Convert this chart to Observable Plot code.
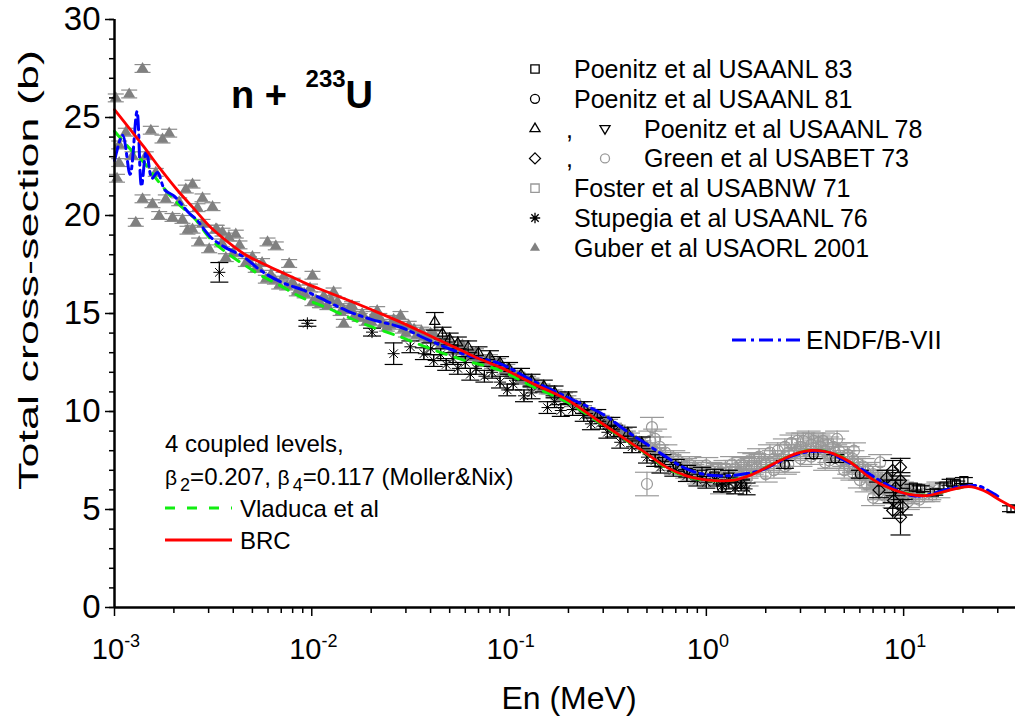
<!DOCTYPE html>
<html>
<head>
<meta charset="utf-8">
<script src="https://cdn.jsdelivr.net/npm/d3@7"></script>
<script src="https://cdn.jsdelivr.net/npm/@observablehq/plot@0.6"></script>
<style>
  html, body { margin: 0; padding: 0; background: #fff; }
  #chart { width: 1015px; height: 716px; }
</style>
</head>
<body>
<div id="chart"></div>
<script>
// ---------- tick values ----------
const yMajor = [0, 5, 10, 15, 20, 25, 30];
const yMinor = [0,1,2,3,4,5,6,7,8,9,10,11,12,13,14,15,16,17,18,19,20,21,22,23,24,25,26,27,28,29,30];
const xMajor = [1e-3, 1e-2, 1e-1, 1, 10];
const xMajorExp = ["-3", "-2", "-1", "0", "1"];
const xMinor = [2e-3,3e-3,4e-3,5e-3,6e-3,7e-3,8e-3,9e-3,
                2e-2,3e-2,4e-2,5e-2,6e-2,7e-2,8e-2,9e-2,
                0.2,0.3,0.4,0.5,0.6,0.7,0.8,0.9,
                2,3,4,5,6,7,8,9,20,30];

// ---------- calculated curves [E (MeV), sigma (b)] ----------
const brcCurve = [[1e-3,25.4],[1.2e-3,24.4],[1.41e-3,23.5],[1.7e-3,22.4],[2.08e-3,21.3],[2.5e-3,20.4],
  [3.07e-3,19.4],[3.7e-3,18.7],[4.52e-3,18.05],[5.5e-3,17.6],[6.68e-3,17.2],[8e-3,16.85],[9.5e-3,16.5],
  [1.2e-2,16.1],[1.6e-2,15.6],[2e-2,15.2],[2.82e-2,14.56],[4e-2,13.85],[5.5e-2,13.2],[7e-2,12.7],
  [9.04e-2,12.25],[0.1334,11.4],[0.197,10.6],[0.29,9.45],[0.38,8.65],[0.482,7.95],[0.63,7.15],
  [0.8,6.7],[0.933,6.55],[1.1,6.47],[1.38,6.5],[1.7,6.78],[2.03,7.16],[2.47,7.59],[2.9,7.88],
  [3.37,8.01],[3.9,7.98],[4.43,7.84],[5.37,7.41],[6.53,6.73],[7.93,6.22],[10.4,5.8],[13.2,5.71],
  [17.3,6.0],[21.4,6.17],[25.4,5.97],[31,5.46],[36.9,5.04]];
const vladucaCurve = [[1e-3,24.3],[1.2e-3,23.4],[1.41e-3,22.7],[1.71e-3,21.6],[2.1e-3,20.6],[2.52e-3,19.9],
  [3.07e-3,18.8],[3.7e-3,18.1],[4.52e-3,17.5],[5.5e-3,16.95],[6.7e-3,16.5],[8.77e-3,15.85],[1.29e-2,15.15],
  [1.8e-2,14.5],[2.82e-2,13.8],[4e-2,13.2],[6e-2,12.6],[9.04e-2,12.1],[0.13,11.3],[0.2,10.45],[0.29,9.4],
  [0.38,8.62],[0.482,7.93],[0.63,7.12],[0.8,6.68],[0.95,6.52],[1.13,6.47],[1.38,6.51],[2.03,7.17],
  [2.47,7.6],[3.37,8.02],[4.43,7.85],[5.37,7.42],[6.53,6.75],[7.93,6.24],[10.4,5.82],[13.2,5.73],
  [17.3,6.0],[20,6.14]];
const endfCurve = [[1e-3,22.8],[1.1e-3,24.1],[1.2e-3,22.1],[1.3e-3,25.3],[1.37e-3,21.5],[1.45e-3,23.3],
  [1.55e-3,21.9],[1.65e-3,22.2],[1.8e-3,21.3],[2e-3,21.0],[2.4e-3,20.1],[2.6e-3,19.8],[3.07e-3,18.9],
  [3.6e-3,18.4],[4.5e-3,17.9],[5.5e-3,17.2],[7e-3,16.6],[9e-3,16.2],[1.1e-2,15.8],[1.5e-2,15.15],
  [2e-2,14.7],[2.82e-2,14.3],[4e-2,13.6],[6e-2,12.9],[9.04e-2,12.43],[0.13,11.6],[0.2,10.7],[0.3,9.85],
  [0.4,8.95],[0.48,8.44],[0.6,7.8],[0.71,7.33],[0.85,6.95],[1.08,6.73],[1.4,6.75],[1.88,6.99],[2.3,7.4],
  [2.77,7.76],[3.3,7.95],[4.1,7.93],[5,7.5],[6.05,7.08],[7.5,6.5],[9,6.05],[11,5.71],[13,5.72],
  [15.9,5.97],[19,6.15],[23.5,6.22],[26,6.05],[28.7,5.8],[30,5.68]];

// ---------- experimental data [E (MeV), sigma (b), error (b)] ----------
const guberData = [[1.387e-3,27.5,0.2],[1.187e-3,26.2,0.2],[1.015e-3,26.0,0.2],[1.141e-3,24.25,0.2],[1.528e-3,24.35,0.2],
  [1.893e-3,24.2,0.2],[1.751e-3,23.9,0.2],[1.056e-3,23.6,0.2],[1.441e-3,23.05,0.2],[1.234e-3,23.05,0.2],
  [1.056e-3,22.7,0.2],[1.619e-3,22.2,0.2],[1.03e-3,21.9,0.2],[2.485e-3,21.6,0.2],[2.298e-3,21.35,0.2],
  [1.387e-3,20.85,0.2],[1.82e-3,20.85,0.2],[2.793e-3,20.9,0.2],[1.558e-3,20.6,0.2],[2.128e-3,20.7,0.2],
  [2.634e-3,20.4,0.2],[3.139e-3,20.45,0.2],[1.685e-3,20.0,0.2],[1.968e-3,19.9,0.2],[1.282e-3,19.65,0.2],
  [2.211e-3,19.8,0.2],[2.485e-3,19.3,0.2],[2.344e-3,19.25,0.2],[2.793e-3,19.6,0.2],[3.262e-3,19.3,0.2],
  [3.527e-3,19.15,0.2],[2.687e-3,18.65,0.2],[4.118e-3,19.05,0.2],[3.02e-3,18.3,0.2],[3.665e-3,17.85,0.2],
  [5.965e-3,18.65,0.2],[6.57e-3,18.45,0.2],[4.63e-3,17.6,0.2],[5.2e-3,17.3,0.2],[7.68e-3,17.55,0.2],
  [1.008e-2,16.95,0.2],[5.85e-3,16.75,0.2],[6.84e-3,16.45,0.2],[8.63e-3,16.25,0.2],[1.008e-2,15.6,0.2],
  [1.107e-2,15.5,0.2],[1.453e-2,14.5,0.2],[2.145e-2,15.15,0.2],[2.816e-2,14.9,0.2],[1.29e-2,16.1,0.2],
  [3.3e-3,19.3,0.2],[3.5e-3,18.6,0.2],[3.8e-3,18.9,0.2],[4.0e-3,18.1,0.2],[4.3e-3,18.5,0.2],[4.8e-3,17.7,0.2],
  [5.0e-3,17.9,0.2],[5.4e-3,17.3,0.2],[5.6e-3,17.6,0.2],[6.2e-3,17.0,0.2],[6.5e-3,16.7,0.2],[7.2e-3,16.9,0.2],
  [7.5e-3,16.4,0.2],[8.0e-3,16.6,0.2],[8.4e-3,16.1,0.2],[9.2e-3,16.0,0.2],[9.8e-3,16.3,0.2],[1.05e-2,15.7,0.2],
  [1.15e-2,15.9,0.2],[1.2e-2,15.4,0.2],[1.35e-2,15.6,0.2],[1.4e-2,15.1,0.2],[1.55e-2,15.3,0.2],[1.65e-2,14.9,0.2],
  [1.8e-2,15.0,0.2],[1.9e-2,14.6,0.2],[2.05e-2,14.9,0.2],[2.3e-2,14.5,0.2],[2.5e-2,14.4,0.2],[2.6e-2,14.7,0.2],
  [2.9e-2,14.2,0.2],[3.1e-2,14.4,0.2],[3.4e-2,13.9,0.2],[3.6e-2,14.1,0.2],[3.9e-2,13.7,0.2],[4.2e-2,13.9,0.2],
  [4.5e-2,13.4,0.2],[4.8e-2,13.6,0.2],[5.2e-2,13.2,0.2],[5.6e-2,13.3,0.2],[6.0e-2,12.9,0.2],[6.5e-2,13.0,0.2],
  [7.0e-2,12.7,0.2],[7.6e-2,12.6,0.2],[8.2e-2,12.4,0.2],[8.8e-2,12.5,0.2],[9.5e-2,12.1,0.2],[0.102,12.0,0.2],
  [0.11,11.8,0.2],[0.12,11.7,0.2],[0.13,11.5,0.2],[0.14,11.3,0.2],[0.155,11.1,0.2],[0.17,10.9,0.2],
  [0.185,10.7,0.2],[0.2,10.6,0.2],[0.22,10.3,0.2],[0.24,10.1,0.2],[0.26,9.9,0.2],[0.28,9.7,0.2],
  [0.31,9.5,0.2],[0.34,9.2,0.2],[0.37,8.95,0.2],[0.4,8.8,0.2],[0.44,8.5,0.2],[0.48,8.3,0.2],[0.52,8.0,0.2],[0.58,7.7,0.2],
  [1.1e-2,15.5,0.2],[1.25e-2,15.7,0.2],[1.45e-2,15.2,0.2],[1.6e-2,15.4,0.2],[1.75e-2,14.8,0.2],[2.0e-2,14.6,0.2],
  [2.2e-2,14.8,0.2],[2.4e-2,14.3,0.2],[2.75e-2,14.5,0.2],[3.0e-2,14.0,0.2],[3.3e-2,14.2,0.2],[3.7e-2,13.8,0.2],
  [4.0e-2,14.0,0.2],[4.4e-2,13.6,0.2],[5.0e-2,13.4,0.2],[5.4e-2,13.1,0.2],[5.8e-2,13.4,0.2],[6.3e-2,12.8,0.2],
  [6.8e-2,13.0,0.2],[7.3e-2,12.5,0.2],[8.0e-2,12.7,0.2],[8.5e-2,12.3,0.2],[9.2e-2,12.3,0.2],[0.098,12.2,0.2],
  [0.106,11.9,0.2],[0.115,11.6,0.2],[0.125,11.6,0.2],[0.135,11.4,0.2],[0.148,11.2,0.2],[0.16,11.1,0.2],
  [0.178,10.8,0.2],[0.192,10.75,0.2],[0.21,10.45,0.2],[0.23,10.3,0.2],[0.25,10.0,0.2],[0.27,9.85,0.2],
  [0.295,9.6,0.2],[0.325,9.4,0.2],[0.355,9.1,0.2],[0.385,8.95,0.2],[0.42,8.7,0.2],[0.46,8.45,0.2],
  [0.5,8.2,0.2],[0.55,7.95,0.2],[0.62,7.6,0.2]];
const stupegiaData = [[3.4e-3,17.1,0.5],[9.5e-3,14.5,0.15],[0.0202,14.05,0.2],[0.026,12.95,0.55],[0.0316,13.3,0.3],
  [0.037,12.95,0.3],[0.0415,12.6,0.3],[0.04,13.2,0.3],[0.045,12.9,0.3],[0.048,12.4,0.3],[0.052,12.7,0.3],
  [0.055,12.2,0.3],[0.06,12.5,0.3],[0.0636,11.9,0.3],[0.068,12.2,0.3],[0.075,11.8,0.3],[0.082,12.0,0.3],
  [0.09,11.5,0.3],[0.0979,11.1,0.3],[0.105,11.4,0.3],[0.119,10.8,0.3],[0.13,10.95,0.3],[0.1566,10.2,0.3],
  [0.17,10.5,0.3],[0.1829,10.05,0.3],[0.21,10.1,0.3],[0.239,9.8,0.3],[0.26,9.37,0.3],[0.29,9.4,0.3],
  [0.315,8.94,0.3],[0.34,9.0,0.3],[0.366,8.43,0.3],[0.42,8.2,0.3],[0.5,7.67,0.3],[0.55,7.5,0.3],
  [0.585,7.16,0.3],[0.68,7.0,0.3],[0.797,6.73,0.3],[0.9,6.5,0.3],[1.0,6.39,0.3],[1.13,6.5,0.3],
  [1.2,6.2,0.3],[1.3,6.35,0.3],[1.4,6.1,0.3],[1.5,6.25,0.3],[1.6,6.05,0.3]];
const poenitz78Up = [[0.042,14.6,0.45],[0.046,14.0,0.3],[0.05,13.7,0.3],[0.055,13.5,0.3],[0.062,13.3,0.3],
  [0.07,13.0,0.3],[0.08,12.8,0.3],[0.09,12.5,0.3],[0.1,12.2,0.3],[0.115,11.9,0.3],[0.13,11.6,0.3],
  [0.15,11.3,0.3],[0.17,11.0,0.3],[0.2,10.7,0.3],[0.24,10.2,0.3],[0.28,9.8,0.3],[0.33,9.4,0.3],
  [0.4,8.9,0.3],[0.47,8.4,0.3]];
const poenitz78Down = [[0.6,7.5,0.3],[0.7,7.25,0.3],[0.8,6.95,0.3],[0.95,6.85,0.3],[1.1,6.75,0.3],[1.3,6.7,0.3]];
const green73Circles = [[0.5,6.3,0.6],[0.53,9.2,0.5],[0.52,8.5,0.5],[0.56,7.9,0.4],[0.6,7.6,0.4],[0.65,7.4,0.4],
  [0.7,7.2,0.4],[0.75,7.3,0.4],[0.8,7.0,0.4],[0.85,6.9,0.4],[0.9,7.0,0.4],[0.95,6.8,0.4],[1.0,6.8,0.4],
  [1.1,6.7,0.4],[1.2,6.9,0.4],[1.3,6.75,0.4],[1.4,7.1,0.4],[1.5,6.9,0.4],[1.6,7.0,0.4],[1.7,7.2,0.4],
  [1.8,7.1,0.4],[1.9,7.4,0.4],[2.0,7.3,0.4],[2.2,7.6,0.4],[2.4,7.6,0.4],[2.6,7.9,0.4],[2.8,7.9,0.4],
  [3.0,8.2,0.4],[3.2,8.0,0.4],[3.4,8.3,0.4],[3.6,8.1,0.4],[3.8,8.2,0.4],[4.0,8.0,0.4],[4.2,7.8,0.4],
  [4.5,7.9,0.4],[4.8,7.5,0.4],[5.0,7.6,0.4],[5.3,7.2,0.4],[5.6,7.3,0.4],[6.0,6.9,0.4],[6.4,6.9,0.4],
  [6.8,6.5,0.4],[7.2,6.4,0.4],[7.6,6.2,0.4],[8.0,6.3,0.4],[8.5,5.9,0.4],[9.0,6.0,0.4],[9.5,5.8,0.4],
  [10.0,5.7,0.4],[4.6,8.6,0.4],[5.6,8.0,0.4],[7.6,7.4,0.4],[4.0,7.4,0.4],[7.0,5.6,0.4],[1.0,7.25,0.4],
  [1.5,7.3,0.4],[2.5,7.2,0.4],[1.2,6.2,0.4],[2.0,6.8,0.4],[3.0,7.6,0.4],[5.0,7.0,0.4],[6.0,6.5,0.4],[8.0,5.7,0.4],
  [0.55,8.6,0.5],[0.58,8.2,0.5],[0.62,7.9,0.4],[0.68,7.6,0.4],[0.72,7.5,0.4],[0.78,7.2,0.4],[0.82,7.3,0.4],
  [0.88,7.1,0.4],[0.92,6.7,0.4],[1.05,7.0,0.4],[1.15,6.95,0.4],[1.25,7.1,0.4],[1.35,7.3,0.4],[1.45,6.8,0.4],
  [1.55,7.25,0.4],[1.65,7.5,0.4],[1.75,7.45,0.4],[1.85,7.7,0.4],[2.1,7.9,0.4],[2.3,8.0,0.4],[2.5,8.2,0.4],
  [2.7,8.4,0.4],[2.9,8.5,0.4],[3.1,8.5,0.4],[3.3,8.6,0.4],[3.5,8.5,0.4],[3.7,8.4,0.4],[3.9,8.5,0.4],
  [4.1,8.3,0.4],[4.4,8.2,0.4],[4.7,8.0,0.4],[5.2,7.8,0.4],[5.5,7.6,0.4],[5.9,7.3,0.4],[6.2,7.2,0.4],
  [6.6,7.0,0.4],[7.0,6.8,0.4],[7.4,6.6,0.4],[7.8,6.5,0.4],[8.3,6.3,0.4],[8.8,6.2,0.4],[9.3,6.1,0.4],
  [9.8,6.0,0.4],[10.5,5.9,0.4],[11.5,5.8,0.4],[12.5,5.8,0.4],[13.5,5.9,0.4],[15,6.0,0.4],
  [1.6,6.6,0.4],[2.2,7.0,0.4],[2.6,7.3,0.4],[3.4,7.7,0.4],[4.2,7.5,0.4],[5.5,6.9,0.4],[6.5,6.3,0.4],
  [7.5,5.9,0.4],[9,5.5,0.4],[10.5,5.4,0.4],[12,5.5,0.4]];
const green73Diamonds = [[8.8,7.0,0.5],[9.64,7.16,0.45],[9.64,6.48,0.4],[9.1,6.1,0.4],[9.9,5.12,0.4],
  [9.64,4.6,0.9],[8.9,5.46,0.4],[8.8,4.95,0.4],[7.5,6.0,0.4],[8.2,6.6,0.4]];
const poenitz81Data = [[1.2,6.1,0.2],[1.5,6.3,0.2],[2.5,7.3,0.2],[3.5,7.8,0.2],[4.5,7.6,0.2],[6,6.8,0.2]];
const poenitz83Data = [[11.2,6.14,0.15],[12.2,6.06,0.15],[14.3,5.88,0.15],[16,6.2,0.15],[17.3,6.39,0.15],
  [18.5,6.3,0.15],[20.2,6.48,0.15],[35,5.04,0.15]];
const fosterData = [[2.2,7.3,0.3],[3.0,7.9,0.3],[5.0,7.3,0.3],[7.0,6.4,0.3],[11,5.6,0.3],[14,5.7,0.3]];

// ---------- symbols ----------
const capSym = {draw(c, s){const w=Math.sqrt(s/Math.PI); c.moveTo(-w,0); c.lineTo(w,0);}};
const starSym = {draw(c, s){const w=Math.sqrt(s/Math.PI), d=w*0.7071;
  c.moveTo(0,-w);c.lineTo(0,w);c.moveTo(-w,0);c.lineTo(w,0);
  c.moveTo(-d,-d);c.lineTo(d,d);c.moveTo(-d,d);c.lineTo(d,-d);}};
const triDownSym = {draw(c, s){const w=Math.sqrt(s/Math.PI);
  c.moveTo(-w,-w*0.6);c.lineTo(w,-w*0.6);c.lineTo(0,w*1.1);c.closePath();}};
const triUpSym = {draw(c, s){const w=Math.sqrt(s/Math.PI);
  c.moveTo(-w,w*0.6);c.lineTo(w,w*0.6);c.lineTo(0,-w*1.1);c.closePath();}};
const diamondSym = {draw(c, s){const w=Math.sqrt(s/Math.PI);
  c.moveTo(0,-w);c.lineTo(w,0);c.lineTo(0,w);c.lineTo(-w,0);c.closePath();}};

function series(data, o) {
  const X = d => d[0];
  return [
    Plot.ruleX(data, {x: X, y1: d => d[1]-d[2], y2: d => d[1]+d[2], stroke: o.bar, strokeWidth: 1.2}),
    Plot.dot(data, {x: X, y: d => d[1]-d[2], symbol: capSym, r: o.cap, stroke: o.bar, strokeWidth: 1.2}),
    Plot.dot(data, {x: X, y: d => d[1]+d[2], symbol: capSym, r: o.cap, stroke: o.bar, strokeWidth: 1.2}),
    Plot.dot(data, {x: X, y: d => d[1], symbol: o.symbol, r: o.r, fill: o.fill || "none",
      stroke: o.stroke || "none", strokeWidth: o.sw || 1.2})
  ];
}

const P = d => d[0], S = d => d[1];
const chart = Plot.plot({
  width: 1015, height: 716,
  marginLeft: 114, marginRight: 0, marginTop: 19, marginBottom: 109,
  style: {fontFamily: "'Liberation Sans', Arial, sans-serif", color: "#000", background: "#fff", overflow: "visible"},
  x: {type: "log", domain: [1e-3, 36.9]},
  y: {domain: [0, 30]},
  marks: [
    ...series(guberData, {symbol: triUpSym, r: 6, fill: "#808080", bar: "#8c8c8c", cap: 8}),
    ...series(green73Circles, {symbol: "circle", r: 5.5, stroke: "#999", bar: "#9a9a9a", cap: 12}),
    ...series(fosterData, {symbol: "square", r: 4.5, stroke: "#999", bar: "#999", cap: 8}),
    ...series(stupegiaData, {symbol: starSym, r: 6, stroke: "#000", bar: "#000", cap: 9, sw: 1}),
    ...series(poenitz78Up, {symbol: triUpSym, r: 5, stroke: "#000", bar: "#000", cap: 9}),
    ...series(poenitz78Down, {symbol: triDownSym, r: 5, stroke: "#000", bar: "#000", cap: 9}),
    ...series(poenitz81Data, {symbol: "circle", r: 4.5, stroke: "#000", bar: "#000", cap: 9}),
    ...series(green73Diamonds, {symbol: diamondSym, r: 6, stroke: "#000", bar: "#000", cap: 10}),
    ...series(poenitz83Data, {symbol: "square", r: 4.5, stroke: "#000", bar: "#000", cap: 9}),
    Plot.line(vladucaCurve, {x: P, y: S, stroke: "#11ee11", strokeWidth: 3, strokeDasharray: "10,9", curve: "catmull-rom"}),
    Plot.line(endfCurve, {x: P, y: S, stroke: "#0000ff", strokeWidth: 3, strokeDasharray: "14,5,3,5", curve: "catmull-rom"}),
    Plot.line(brcCurve, {x: P, y: S, stroke: "#ff0000", strokeWidth: 2.8, curve: "catmull-rom"}),
    Plot.axisY({ticks: yMinor, tickSize: 5, tickFormat: () => "", label: null, strokeWidth: 1.5}),
    Plot.axisY({ticks: yMajor, tickSize: 9, tickPadding: 5, fontSize: 33, tickFormat: d => String(d), label: null, strokeWidth: 1.5}),
    Plot.axisX({ticks: xMinor, tickSize: 6, tickFormat: () => "", label: null, strokeWidth: 1.5}),
    Plot.axisX({ticks: xMajor, tickSize: 9, tickFormat: () => "", label: null, strokeWidth: 1.5}),
    Plot.ruleX([1e-3], {strokeWidth: 2.5}),
    Plot.ruleY([0], {strokeWidth: 2.5})
  ]
});
document.getElementById("chart").appendChild(chart);

// ---------- texts and legends ----------
const svg = d3.select(chart);
const xs = chart.scale("x");
const font = "'Liberation Sans', Arial, sans-serif";
function txt(x, y, size, anchor) {
  return svg.append("text").attr("x", x).attr("y", y).attr("font-family", font)
    .attr("font-size", size).attr("text-anchor", anchor || "start").attr("fill", "#000");
}

// x tick labels 10^n
xMajor.forEach((v, i) => {
  const t = txt(xs.apply(v) + 2, 659, 29, "middle");
  t.append("tspan").text("10");
  t.append("tspan").attr("dy", -12).attr("font-size", 18).text(xMajorExp[i]);
});
txt(569, 709, 32, "middle").text("En (MeV)");
svg.append("text").attr("transform", "translate(38,270) rotate(-90)").attr("text-anchor", "middle")
  .attr("font-family", font).attr("font-size", 28)
  .attr("textLength", 440).attr("lengthAdjust", "spacingAndGlyphs").text("Total cross-section (b)");

// reaction label
const rl = txt(231, 108, 38).attr("font-weight", "bold");
rl.append("tspan").text("n + ");
rl.append("tspan").attr("dx", 8).attr("dy", -21).attr("font-size", 24).text("233");
rl.append("tspan").attr("dy", 21).text("U");

// experimental legend
const legRows = [
  {syms: [["square", "#000", "none"]], text: "Poenitz et al USAANL 83"},
  {syms: [["circle", "#000", "none"]], text: "Poenitz et al USAANL 81"},
  {syms: [["tri", "#000", "none"], ["tridown", "#000", "none"]], text: "Poenitz et al USAANL 78"},
  {syms: [["diamond", "#000", "none"], ["circle", "#999", "none"]], text: "Green et al USABET 73"},
  {syms: [["square", "#999", "none"]], text: "Foster et al USABNW 71"},
  {syms: [["star", "#000", "none"]], text: "Stupegia et al USAANL 76"},
  {syms: [["tri", "none", "#808080"]], text: "Guber et al USAORL 2001"}
];
const symPath = {
  square: d3.symbol(d3.symbolSquare, 70)(),
  circle: d3.symbol(d3.symbolCircle, 64)(),
  tri: d3.symbol(triUpSym, 80)(),
  tridown: d3.symbol(triDownSym, 80)(),
  diamond: d3.symbol(diamondSym, 95)(),
  star: d3.symbol(starSym, 85)()
};
legRows.forEach((row, i) => {
  const y = 69 + 29.8 * i;
  row.syms.forEach((s, j) => {
    svg.append("path").attr("d", symPath[s[0]]).attr("transform", `translate(${j ? 605 : 535},${y})`)
      .attr("stroke", s[1]).attr("fill", s[2]).attr("stroke-width", 1.3);
  });
  if (row.syms.length > 1) txt(566, y + 9, 25).text(",");
  txt(row.syms.length > 1 ? 644 : 574, y + 9, 25).text(row.text);
});

// ENDF legend
svg.append("line").attr("x1", 732).attr("x2", 800).attr("y1", 340).attr("y2", 340)
  .attr("stroke", "#0000ff").attr("stroke-width", 3).attr("stroke-dasharray", "14,5,3,5");
txt(806, 349, 26).text("ENDF/B-VII");

// model annotation
txt(165, 452, 24).text("4 coupled levels,");
const bt = txt(165, 485, 24);
bt.append("tspan").attr("font-size", 21).text("β");
bt.append("tspan").attr("dx", 3).attr("dy", 6).attr("font-size", 18).text("2");
bt.append("tspan").attr("dy", -6).text("=0.207, ");
bt.append("tspan").attr("font-size", 21).text("β");
bt.append("tspan").attr("dx", 3).attr("dy", 6).attr("font-size", 18).text("4");
bt.append("tspan").attr("dy", -6).text("=0.117 (Moller&Nix)");
svg.append("line").attr("x1", 165).attr("x2", 232).attr("y1", 508).attr("y2", 508)
  .attr("stroke", "#11ee11").attr("stroke-width", 3).attr("stroke-dasharray", "10,12");
txt(240, 517, 24).text("Vladuca et al");
svg.append("line").attr("x1", 165).attr("x2", 232).attr("y1", 540).attr("y2", 540)
  .attr("stroke", "#ff0000").attr("stroke-width", 2.8);
txt(240, 549, 24).text("BRC");
</script>
</body>
</html>
